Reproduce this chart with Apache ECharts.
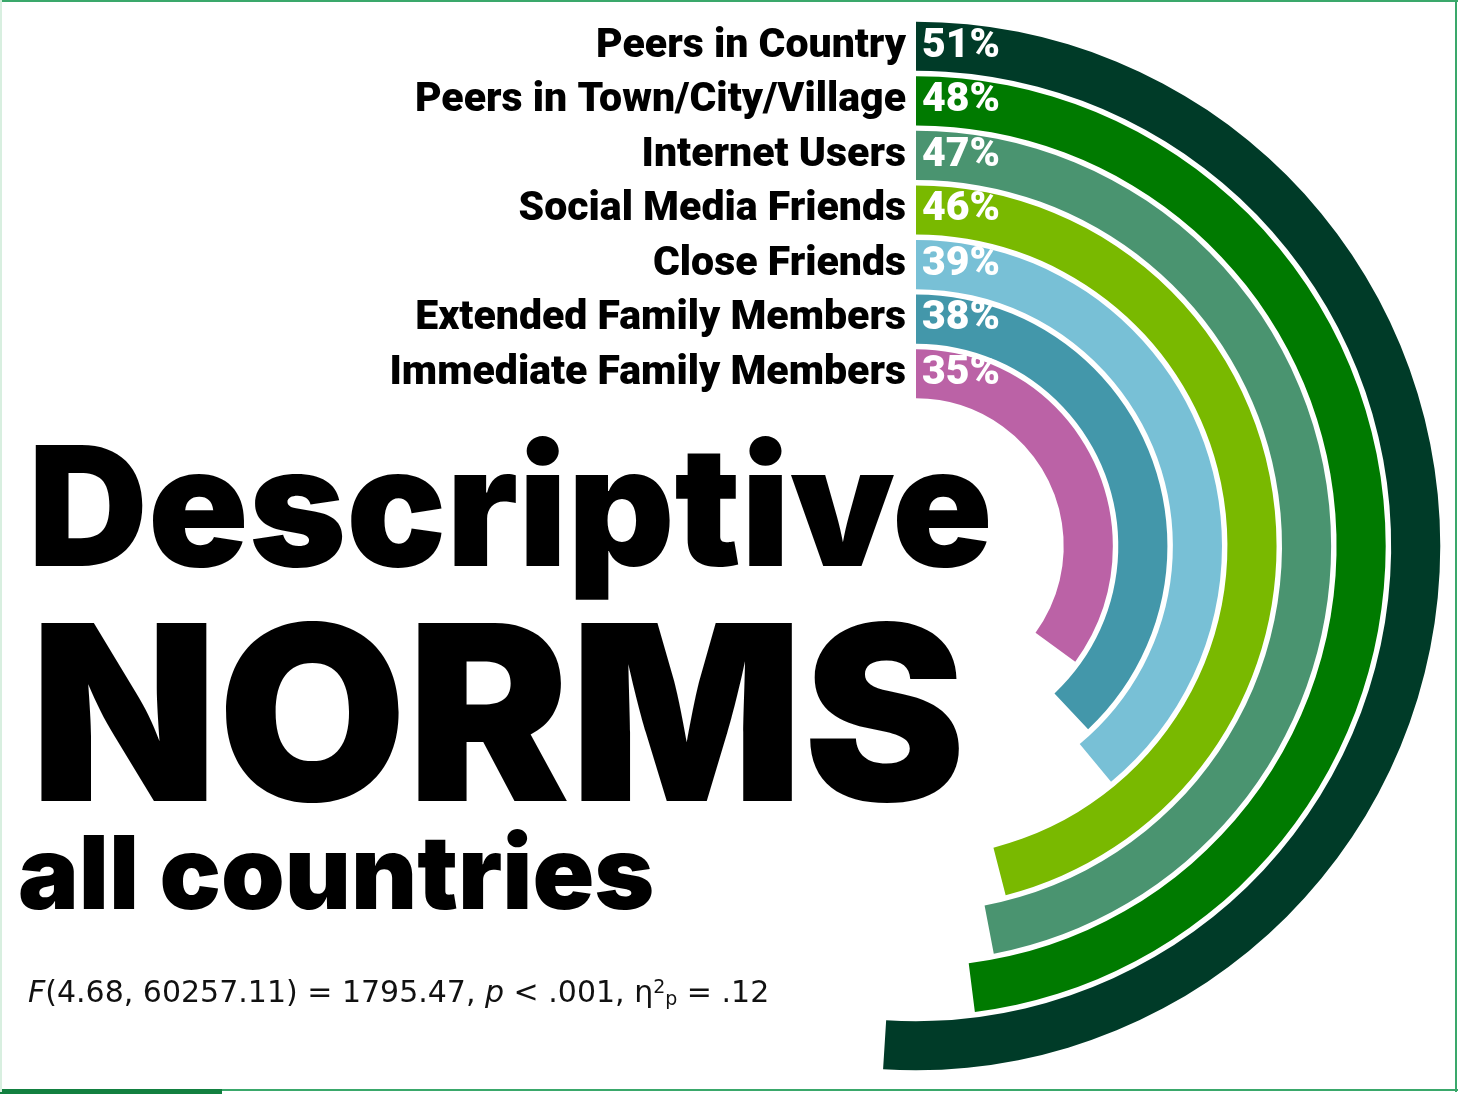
<!DOCTYPE html>
<html>
<head>
<meta charset="utf-8">
<script src="https://cdn.jsdelivr.net/npm/echarts@6/dist/echarts.min.js"></script>
<style>
  html, body { margin: 0; padding: 0; background: #ffffff; }
  #chart { width: 1458px; height: 1094px; }
</style>
</head>
<body>
<div id="chart"></div>
<script>
// Reference groups, innermost ring first
const groups = [
  'Immediate Family Members',
  'Extended Family Members',
  'Close Friends',
  'Social Media Friends',
  'Internet Users',
  'Peers in Town/City/Village',
  'Peers in Country'
];
// Share of respondents (%) for each group
const shares = [35, 38, 39, 46, 47, 48, 51];
const ringColors = ['#bb62a6', '#4397aa', '#78c0d6', '#79b900', '#4a9470', '#007a00', '#003b28'];

const titleLines = ['Descriptive', 'NORMS', 'all countries'];
const statLine = '{i|F}(4.68, 60257.11) = 1795.47, {i|p} < .001, \u03b7{sup|2}{sub|p} = .12';

const labelFont = "Roboto, 'Liberation Sans', sans-serif";
const heavy = "Inter, 'Liberation Sans', sans-serif";
const statFont = "'DejaVu Sans', sans-serif";

const chart = echarts.init(document.getElementById('chart'), null, { renderer: 'canvas' });

chart.setOption({
  backgroundColor: '#ffffff',
  animation: false,
  polar: {
    center: [916, 546],
    radius: [145, 527]
  },
  angleAxis: {
    type: 'value',
    min: 0,
    max: 100,
    startAngle: 90,
    clockwise: true,
    show: false
  },
  radiusAxis: {
    type: 'category',
    data: groups,
    axisLine: { show: false },
    axisTick: { show: false },
    splitLine: { show: false },
    axisLabel: {
      interval: 0,
      margin: 10,
      color: '#000000',
      fontFamily: labelFont,
      fontWeight: 900,
      fontSize: 41
    }
  },
  series: [{
    type: 'bar',
    coordinateSystem: 'polar',
    barCategoryGap: '10%',
    data: shares.map((v, i) => ({ value: v, itemStyle: { color: ringColors[i] } })),
    label: {
      show: true,
      position: 'insideStart',
      distance: 6,
      formatter: '{c}%',
      color: '#ffffff',
      fontFamily: labelFont,
      fontWeight: 900,
      fontSize: 41
    }
  }],
  graphic: [
    { type: 'text', left: 28, top: 433, style: { text: titleLines[0], fill: '#000', font: '900 166px ' + heavy } },
    { type: 'text', left: 30, top: 606, style: { text: titleLines[1], fill: '#000', font: '900 244px ' + heavy } },
    { type: 'text', left: 18, top: 827, style: { text: titleLines[2], fill: '#000', font: '900 102px ' + heavy } },
    {
      type: 'text', left: 28, top: 979,
      style: {
        text: statLine,
        fill: '#111',
        font: '30px ' + statFont,
        rich: {
          i: { fontStyle: 'italic', fontSize: 30, fontFamily: statFont, fill: '#111' },
          sup: { fontSize: 19, fontFamily: statFont, fill: '#111', padding: [0, 0, 12, 0] },
          sub: { fontSize: 19, fontFamily: statFont, fill: '#111', padding: [12, 0, 0, 0] }
        }
      }
    },
    // frame
    { type: 'rect', shape: { x: 0, y: 0, width: 1458, height: 2 }, style: { fill: '#3aa86b' } },
    { type: 'rect', shape: { x: 1455, y: 0, width: 2, height: 1092 }, style: { fill: '#3aa86b' } },
    { type: 'rect', shape: { x: 0, y: 1089, width: 1458, height: 2 }, style: { fill: '#3aa86b' } },
    { type: 'rect', shape: { x: 0, y: 1089, width: 222, height: 5 }, style: { fill: '#128040' } },
    { type: 'rect', shape: { x: 0, y: 0, width: 2, height: 1092 }, style: { fill: '#d8efe0' } }
  ]
});
</script>
</body>
</html>
